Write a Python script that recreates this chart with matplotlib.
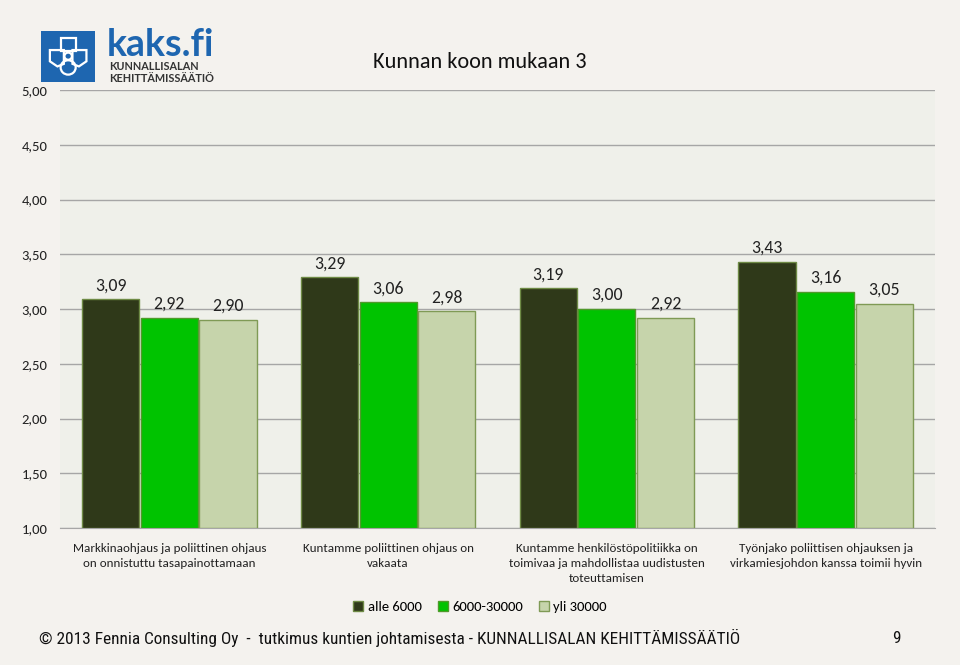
import numpy as np
from matplotlib import pyplot as plt
from matplotlib.patches import Rectangle, Circle, Polygon

plt.rcParams['font.family'] = ['Carlito', 'Lato', 'DejaVu Sans']

# data
categories = ["Markkinaohjaus ja poliittinen ohjaus\non onnistuttu tasapainottamaan",
              "Kuntamme poliittinen ohjaus on\nvakaata",
              "Kuntamme henkilöstöpolitiikka on\ntoimivaa ja mahdollistaa uudistusten\ntoteuttamisen",
              "Työnjako poliittisen ohjauksen ja\nvirkamiesjohdon kanssa toimii hyvin"]
series_names = ["alle 6000", "6000-30000", "yli 30000"]
alle_6000 = [3.09, 3.29, 3.19, 3.43]
mid_6000_30000 = [2.92, 3.06, 3.00, 3.16]
yli_30000 = [2.90, 2.98, 2.92, 3.05]
yticks = [1.0, 1.5, 2.0, 2.5, 3.0, 3.5, 4.0, 4.5, 5.0]

colors = ['#2f3919', '#00c300', '#c6d4ab']
edges = ['#6e8a45', '#4f9a2a', '#7f9a55']

fig = plt.figure(figsize=(9.6, 6.65), dpi=100)
fig.patch.set_facecolor('#f4f2ee')
ax = fig.add_axes([0.0625, 0.206, 0.9115, 0.6585])
ax.set_facecolor('#eff0ea')

x = np.arange(len(categories))
w = 0.268
for i, vals in enumerate([alle_6000, mid_6000_30000, yli_30000]):
    pos = x + (i - 1) * w
    ax.bar(pos, np.array(vals) - 1.0, width=w * 0.975, bottom=1.0, color=colors[i],
           edgecolor=edges[i], linewidth=1.0, label=series_names[i], zorder=3)
    for p, v in zip(pos, vals):
        ax.text(p, v + 0.055, f"{v:.2f}".replace('.', ','), ha='center', va='bottom',
                fontsize=12.8, color='#222222', zorder=4)

ax.set_xlim(-0.5, len(categories) - 0.5)
ax.set_ylim(1.0, 5.0)
ax.set_yticks(yticks)
ax.set_yticklabels([f"{t:.2f}".replace('.', ',') for t in yticks], fontsize=10.5, color='#222222')
ax.yaxis.grid(True, color='#a6a6a6', linewidth=1.0, zorder=0)
ax.tick_params(axis='y', length=0, pad=9)
ax.set_xticks(x)
ax.set_xticklabels(categories, fontsize=9.4, color='#222222', linespacing=1.42)
ax.tick_params(axis='x', length=0, pad=11)
for s in ['top', 'right', 'left']:
    ax.spines[s].set_visible(False)
ax.spines['bottom'].set_color('#a6a6a6')

leg = fig.legend(loc='center', bbox_to_anchor=(0.5, 0.087), ncol=3, frameon=False,
                 fontsize=10.5, handlelength=0.7, handleheight=0.7, handletextpad=0.3,
                 columnspacing=1.1)

# title
fig.text(0.5, 0.907, "Kunnan koon mukaan 3", ha='center', va='center', fontsize=16,
         color='#111111')

# logo
lax = fig.add_axes([0.043, 0.877, 0.056, 0.077])
lax.set_xlim(0, 1)
lax.set_ylim(0, 1)
lax.axis('off')
lax.add_patch(Rectangle((0, 0), 1, 1, facecolor='#1e66b0', edgecolor='none'))
wl = dict(facecolor='none', edgecolor='white', linewidth=1.6)
lax.add_patch(Rectangle((0.36, 0.6), 0.28, 0.26, **wl))
lax.add_patch(Polygon([(0.16, 0.62), (0.42, 0.62), (0.42, 0.35), (0.3, 0.3), (0.16, 0.4)], **wl))
lax.add_patch(Polygon([(0.84, 0.62), (0.58, 0.62), (0.58, 0.35), (0.7, 0.3), (0.84, 0.4)], **wl))
lax.add_patch(Circle((0.5, 0.28), 0.14, **wl))
lax.add_patch(Circle((0.5, 0.5), 0.07, **wl))

fig.text(0.111, 0.932, "kaks.fi", fontsize=27, color='#1e66b0', fontweight='bold',
         family=['Lato', 'DejaVu Sans'], ha='left', va='center')
fig.text(0.114, 0.891, "KUNNALLISALAN\nKEHITTÄMISSÄÄTIÖ", fontsize=7.8, color='#333333',
         fontweight='bold', family=['Lato', 'DejaVu Sans'], ha='left', va='center',
         linespacing=1.15)

# footer
ff = ['Roboto Condensed', 'Liberation Sans']
fig.text(0.041, 0.04, "© 2013 Fennia Consulting Oy  -  tutkimus kuntien johtamisesta - KUNNALLISALAN KEHITTÄMISSÄÄTIÖ",
         fontsize=12.4, family=ff, ha='left', va='center', color='#111111')
fig.text(0.934, 0.04, "9", fontsize=12.4, family=ff, ha='center', va='center',
         color='#111111')

fig.savefig('out.png', dpi=100, facecolor=fig.get_facecolor())
